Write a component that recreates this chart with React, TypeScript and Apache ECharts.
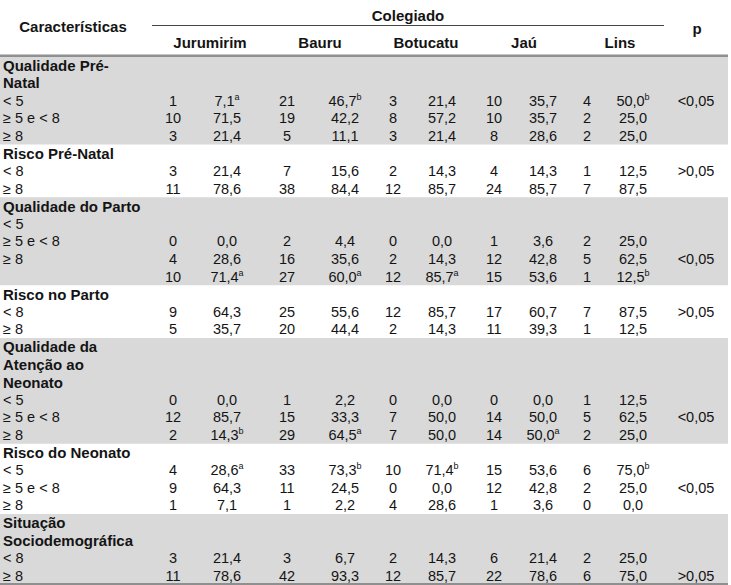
import React, { useEffect, useRef } from "react";
import * as echarts from "echarts";

const _ = null;

const colegiados = ["Jurumirim", "Bauru", "Botucatu", "Jaú", "Lins"];

const rowLabels = [
  "Qualidade Pré-", "Natal", "< 5", "≥ 5 e < 8", "≥ 8",
  "Risco Pré-Natal", "< 8", "≥ 8",
  "Qualidade do Parto", "< 5", "≥ 5 e < 8", "≥ 8", "",
  "Risco no Parto", "< 8", "≥ 8",
  "Qualidade da", "Atenção ao", "Neonato", "< 5", "≥ 5 e < 8", "≥ 8",
  "Risco do Neonato", "< 5", "≥ 5 e < 8", "≥ 8",
  "Situação", "Sociodemográfica", "< 8", "≥ 8",
];
const titleRows = [0, 1, 5, 8, 13, 16, 17, 18, 22, 26, 27];
const sectionBounds = [0, 5, 8, 13, 16, 22, 26, 30];
const shadedSections = [0, 2, 4, 6];

const nJurumirim = [_, _, 1, 10, 3, _, 3, 11, _, _, 0, 4, 10, _, 9, 5, _, _, _, 0, 12, 2, _, 4, 9, 1, _, _, 3, 11];
const pctJurumirim = [_, _, 7.1, 71.5, 21.4, _, 21.4, 78.6, _, _, 0.0, 28.6, 71.4, _, 64.3, 35.7, _, _, _, 0.0, 85.7, 14.3, _, 28.6, 64.3, 7.1, _, _, 21.4, 78.6];
const nBauru = [_, _, 21, 19, 5, _, 7, 38, _, _, 2, 16, 27, _, 25, 20, _, _, _, 1, 15, 29, _, 33, 11, 1, _, _, 3, 42];
const pctBauru = [_, _, 46.7, 42.2, 11.1, _, 15.6, 84.4, _, _, 4.4, 35.6, 60.0, _, 55.6, 44.4, _, _, _, 2.2, 33.3, 64.5, _, 73.3, 24.5, 2.2, _, _, 6.7, 93.3];
const nBotucatu = [_, _, 3, 8, 3, _, 2, 12, _, _, 0, 2, 12, _, 12, 2, _, _, _, 0, 7, 7, _, 10, 0, 4, _, _, 2, 12];
const pctBotucatu = [_, _, 21.4, 57.2, 21.4, _, 14.3, 85.7, _, _, 0.0, 14.3, 85.7, _, 85.7, 14.3, _, _, _, 0.0, 50.0, 50.0, _, 71.4, 0.0, 28.6, _, _, 14.3, 85.7];
const nJau = [_, _, 10, 10, 8, _, 4, 24, _, _, 1, 12, 15, _, 17, 11, _, _, _, 0, 14, 14, _, 15, 12, 1, _, _, 6, 22];
const pctJau = [_, _, 35.7, 35.7, 28.6, _, 14.3, 85.7, _, _, 3.6, 42.8, 53.6, _, 60.7, 39.3, _, _, _, 0.0, 50.0, 50.0, _, 53.6, 42.8, 3.6, _, _, 21.4, 78.6];
const nLins = [_, _, 4, 2, 2, _, 1, 7, _, _, 2, 5, 1, _, 7, 1, _, _, _, 1, 5, 2, _, 6, 2, 0, _, _, 2, 6];
const pctLins = [_, _, 50.0, 25.0, 25.0, _, 12.5, 87.5, _, _, 25.0, 62.5, 12.5, _, 87.5, 12.5, _, _, _, 12.5, 62.5, 25.0, _, 75.0, 25.0, 0.0, _, _, 25.0, 75.0];

// [colegiado index, row index, letter]
const superscripts: [number, number, string][] = [
  [0, 2, "a"], [0, 12, "a"], [0, 21, "b"], [0, 23, "a"],
  [1, 2, "b"], [1, 12, "a"], [1, 21, "a"], [1, 23, "b"],
  [2, 12, "a"], [2, 23, "b"],
  [3, 21, "a"],
  [4, 2, "b"], [4, 12, "b"], [4, 23, "b"],
];

// [row index, p text]
const pValues: [number, string][] = [
  [2, "<0,05"], [6, ">0,05"], [11, "<0,05"], [14, ">0,05"],
  [20, "<0,05"], [24, "<0,05"], [29, ">0,05"],
];

const nSeries = [nJurumirim, nBauru, nBotucatu, nJau, nLins];
const pctSeries = [pctJurumirim, pctBauru, pctBotucatu, pctJau, pctLins];

// layout
const W = 731;
const H = 585;
const FONT = "'Liberation Sans', Arial, Helvetica, sans-serif";
const bodyTop = 56.5;
const rowH = 17.6;
const tableRight = 728;
const nX = [173, 287, 393, 494, 587];
const pctX = [227, 345, 442, 543, 633];
const headX = [210, 320, 426, 524, 620];
const pX = 696;
const ink = "#141414";

function rowY(i: number) {
  return bodyTop + (i + 0.5) * rowH;
}
function fmt(v: number) {
  return v.toFixed(1).replace(".", ",");
}

function txt(text: string, x: number, y: number, opts: any = {}) {
  const align = opts.align || "left";
  return {
    type: "text",
    x,
    y,
    silent: true,
    style: {
      text,
      fill: ink,
      fontFamily: FONT,
      fontSize: opts.size || 14.5,
      fontWeight: opts.bold ? "bold" : "normal",
      align,
      textAlign: align,
      verticalAlign: "middle",
      textVerticalAlign: "middle",
      rich: opts.rich,
    },
  };
}

function buildGraphic() {
  const els: any[] = [];
  // bands
  shadedSections.forEach((s) => {
    const a = sectionBounds[s];
    const b = sectionBounds[s + 1];
    els.push({
      type: "rect",
      silent: true,
      shape: { x: 0, y: bodyTop + a * rowH, width: tableRight, height: (b - a) * rowH },
      style: { fill: "#d9d9d9" },
    });
  });
  // rules
  els.push({ type: "rect", silent: true, shape: { x: 0, y: bodyTop - 2, width: tableRight, height: 2.5 }, style: { fill: "#8f8f8f" } });
  els.push({ type: "rect", silent: true, shape: { x: 0, y: bodyTop + 30 * rowH - 1.5, width: tableRight, height: 2 }, style: { fill: "#8f8f8f" } });
  els.push({ type: "line", silent: true, shape: { x1: 152, y1: 25.5, x2: 664, y2: 25.5 }, style: { stroke: "#444", lineWidth: 1 } });

  // header
  els.push(txt("Características", 73, 26, { bold: true, size: 15, align: "center" }));
  els.push(txt("Colegiado", 408, 15, { bold: true, size: 15, align: "center" }));
  els.push(txt("p", pX + 1, 28, { bold: true, size: 15, align: "center" }));
  colegiados.forEach((c, k) => {
    els.push(txt(c, headX[k], 42.5, { bold: true, size: 15, align: "center" }));
  });

  // labels
  rowLabels.forEach((lab, i) => {
    if (!lab) return;
    const bold = titleRows.indexOf(i) >= 0;
    els.push(txt(lab, 3, rowY(i), { bold, size: bold ? 15 : 14.5 }));
  });

  // values
  nSeries.forEach((arr, k) => {
    arr.forEach((v, i) => {
      if (v === null) return;
      els.push(txt(String(v), nX[k], rowY(i), { align: "center" }));
    });
  });
  pctSeries.forEach((arr, k) => {
    arr.forEach((v, i) => {
      if (v === null) return;
      const sup = superscripts.find((s) => s[0] === k && s[1] === i);
      if (sup) {
        els.push(
          txt(`{v|${fmt(v)}}{s|${sup[2]}}`, pctX[k], rowY(i), {
            align: "center",
            rich: {
              v: { fontFamily: FONT, fontSize: 14.5, fill: ink, lineHeight: 17 },
              s: { fontFamily: FONT, fontSize: 9, fill: ink, verticalAlign: "top", lineHeight: 11 },
            },
          })
        );
      } else {
        els.push(txt(fmt(v), pctX[k], rowY(i), { align: "center" }));
      }
    });
  });
  pValues.forEach(([i, t]) => {
    els.push(txt(t, pX, rowY(i), { align: "center" }));
  });
  return els;
}

export default function App() {
  const ref = useRef<HTMLDivElement>(null);
  useEffect(() => {
    if (!ref.current) return;
    const chart = echarts.init(ref.current, null, { renderer: "svg" });
    chart.setOption({
      animation: false,
      backgroundColor: "#ffffff",
      graphic: { elements: buildGraphic() },
    });
    return () => chart.dispose();
  }, []);
  return (
    <div
      ref={ref}
      style={{ position: "fixed", left: 0, top: 0, width: W, height: H, background: "#fff" }}
    />
  );
}
